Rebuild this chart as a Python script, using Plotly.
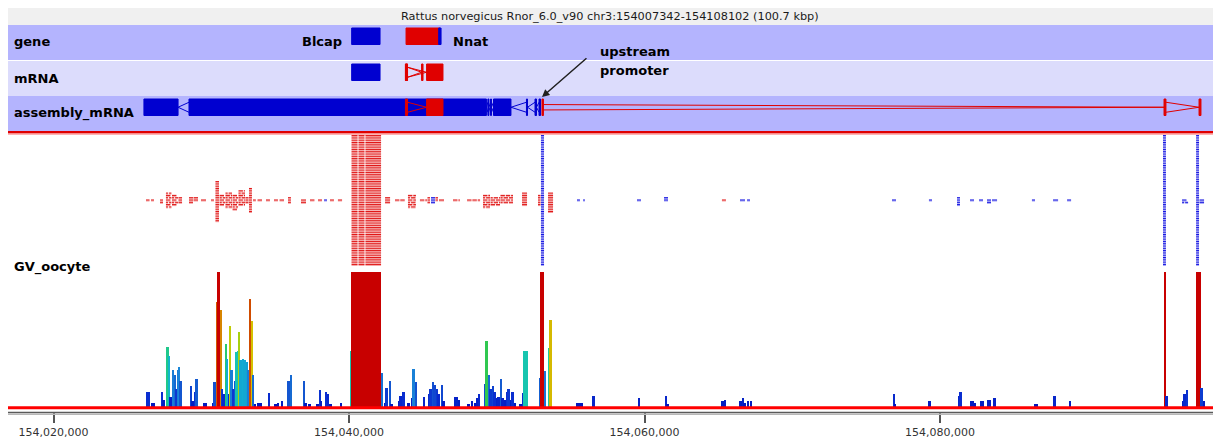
import plotly.graph_objects as go

# ------------------------------------------------------------------ data
VIEW_START = 154016379
VIEW_END = 154098475
VIEW_TITLE = "Rattus norvegicus Rnor_6.0_v90 chr3:154007342-154108102 (100.7 kbp)"
RULER_TICKS = [154020000, 154040000, 154060000, 154080000]

# gene track
gene_names = ["Blcap", "Nnat", ""]
gene_starts = [154040180, 154043860, 154046070]
gene_ends = [154042100, 154046160, 154046230]
gene_strands = ["-", "+", "-"]

# mRNA track (exon lists per transcript)
mrna_exons = [
    [(154040180, 154042100)],
    [(154043820, 154043960), (154045250, 154046360)],
    [(154043820, 154043960), (154044910, 154045010)],
]
mrna_strands = ["-", "+", "+"]

# assembly_mRNA track
assembly_exons = [
    [(154026120, 154028430), (154029170, 154049300), (154049400, 154049470),
     (154049580, 154049640), (154049780, 154050960), (154052010, 154052080),
     (154052590, 154052690), (154052860, 154052960)],
    [(154043820, 154043960), (154045250, 154046360)],
    [(154053060, 154053160), (154095160, 154095290), (154097530, 154097660)],
]
assembly_strands = ["-", "+", "+"]

# GV_oocyte reads: clusters of stacked reads (start, end, rows above, rows below, strand)
READ_LENGTH = 300
read_starts = [154026260, 154026600, 154027210, 154027610, 154028020, 154028460, 154029170,
               154029480, 154029980, 154030660, 154030960, 154031240, 154031640, 154032120,
               154032520, 154032990, 154033230, 154033500, 154033810, 154034380, 154034920,
               154035300, 154035870, 154036750, 154037360, 154037900, 154038310, 154038710,
               154039250, 154040170, 154040640, 154041110, 154042440, 154043110, 154043990,
               154044800, 154045310, 154045550, 154045850, 154046090, 154047040, 154047990,
               154049070, 154049580, 154050250, 154051710, 154052790, 154052990, 154053470,
               154055430, 154055840, 154059490, 154061320, 154065240, 154066460, 154066940,
               154076750, 154079250, 154081150, 154082030, 154082640, 154083180, 154083520,
               154086220, 154087650, 154088600, 154095090, 154096380, 154097330, 154097560]
read_ends = [154026500, 154026800, 154027410, 154027980, 154028430, 154028700, 154029440,
             154029780, 154030320, 154030860, 154031200, 154031610, 154032080, 154032490,
             154032960, 154033200, 154033430, 154033700, 154034110, 154034650, 154035190,
             154035600, 154036070, 154037090, 154037770, 154038170, 154038510, 154038980,
             154039530, 154040580, 154041050, 154042170, 154042780, 154043790, 154044530,
             154045280, 154045480, 154045820, 154046020, 154046430, 154047510, 154048870,
             154049540, 154050220, 154051100, 154052050, 154052960, 154053200, 154053810,
             154055630, 154055970, 154059760, 154061590, 154065510, 154066800, 154067140,
             154077020, 154079460, 154081350, 154082300, 154082910, 154083450, 154083860,
             154086430, 154087990, 154088870, 154095290, 154096790, 154097530, 154097870]
read_rows_up = [0, 0, 0, 3, 2, 1, 1, 1, 0, 0, 8, 2, 3, 2, 4, 1, 5, 0, 0, 0, 0, 0, 1, 0, 0,
                0, 0, 0, 0, 28, 28, 28, 1, 0, 2, 0, 1, 1, 1, 0, 0, 0, 2, 1, 2, 3, 2, 28, 3,
                0, 0, 0, 1, 0, 0, 0, 0, 0, 1, 0, 0, 0, 0, 0, 0, 0, 28, 0, 28, 0]
read_rows_down = [0, 0, 1, 3, 2, 1, 1, 0, 0, 0, 9, 2, 3, 4, 2, 1, 5, 0, 0, 0, 0, 0, 1, 1, 0,
                  0, 0, 0, 0, 28, 28, 28, 1, 0, 3, 0, 1, 1, 0, 0, 0, 0, 3, 2, 1, 2, 2, 28, 5,
                  0, 0, 0, 0, 0, 0, 0, 0, 0, 2, 0, 0, 1, 0, 0, 0, 0, 28, 1, 28, 1]
read_strands = ("+" * 26 + "-" + "+" * 10 + "-" + "+" * 9 + "-" + "+" + "----" + "+" + "-" * 16)

# GV_oocyte quantitated probes (start, value; 100 = display maximum)
PROBE_SIZE = 130
probe_starts = [
    154026260, 154026400, 154026600, 154026730, 154027280, 154027410, 154027680, 154027780,
    154027880, 154028020, 154028160, 154028260, 154028360, 154028460, 154028560, 154029240,
    154029370, 154029510, 154029640, 154030120, 154030250, 154030730, 154030860, 154031000,
    154031130, 154031270, 154031370, 154031470, 154031610, 154031710, 154031810, 154031910,
    154032010, 154032120, 154032220, 154032320, 154032420, 154032520, 154032620, 154032760,
    154032890, 154033030, 154033160, 154033270, 154033370, 154033470, 154033570, 154033840,
    154034010, 154034520, 154034990, 154035130, 154035400, 154035870, 154036010, 154036890,
    154037020, 154037290, 154037830, 154037970, 154038070, 154038380, 154038540, 154038710,
    154039390, 154040070,
    154040160, 154040300, 154040430, 154040570, 154040700, 154040840, 154040970, 154041110,
    154041250, 154041380, 154041520, 154041650, 154041790, 154041920, 154042060,
    154042200, 154042370, 154042500, 154042710, 154042840, 154043320, 154043450, 154043650,
    154043990, 154044200, 154044330, 154044470, 154045010, 154045350, 154045480, 154045620,
    154045750, 154045890, 154046020, 154046230, 154046360, 154047110, 154047240, 154047380,
    154048050, 154048260, 154048460, 154048600, 154048730, 154049140, 154049270, 154049410,
    154049540, 154049680, 154049810, 154049950, 154050080, 154050220, 154050350, 154050490,
    154050630, 154050760, 154050900, 154051030, 154051170, 154051570, 154051710, 154051840,
    154051950, 154052860, 154052990, 154053100, 154053230, 154053470, 154053600, 154055430,
    154055570, 154055700, 154056510, 154059560, 154061390, 154061520, 154065240, 154065380,
    154066460, 154066600, 154066730, 154066940, 154067140, 154076820, 154076920, 154079250,
    154081220, 154081350, 154082030, 154082160, 154082300, 154082710, 154082840, 154083180,
    154083310, 154083650, 154086360, 154086500, 154087710, 154088730, 154095160, 154095290,
    154096380, 154096510, 154096650, 154097390, 154097530, 154097660, 154097800,
]
probe_values = [
    12, 12, 4, 4, 12, 6, 45, 38,
    8, 28, 24, 14, 28, 30, 20, 16,
    5, 12, 21, 4, 4, 4, 19, 78,
    100, 72, 14, 10, 47, 36, 10, 60,
    28, 14, 20, 41, 42, 56, 35, 36,
    35, 34, 28, 80, 64, 24, 3, 4,
    4, 11, 3, 4, 5, 20, 24, 20,
    4, 3, 3, 13, 5, 12, 10, 3,
    4, 42,
    100, 100, 100, 100, 100, 100, 100, 100,
    100, 100, 100, 100, 100, 100, 100,
    26, 4, 15, 20, 3, 5, 9, 12,
    4, 7, 29, 19, 8, 10, 14, 19,
    17, 14, 10, 17, 5, 8, 8, 6,
    3, 5, 4, 7, 10, 18, 49, 24,
    14, 16, 12, 7, 8, 21, 7, 6,
    12, 14, 6, 12, 4, 3, 11, 42,
    42, 22, 100, 100, 27, 44, 65, 4,
    4, 4, 9, 7, 9, 3, 5, 6,
    5, 7, 4, 5, 5, 10, 3, 5,
    9, 12, 5, 5, 4, 5, 5, 6,
    6, 7, 3, 3, 9, 5, 100, 9,
    5, 10, 13, 100, 100, 15, 5,
]

# ------------------------------------------------------------------ style / layout
W, H = 1213, 441
PLOT_BOTTOM = 412                  # ruler line, px from top
LEFT_EDGE = 8
FONT = "DejaVu Sans"
TRACK_BG = [("gene", 25, "#b4b4fe"), ("mRNA", 61, "#dcdcfc"), ("assembly_mRNA", 96, "#b4b4fe")]
TRACK_H = 35
READ_CENTRE = 200
ROW_H = 2.3
READ_GAP = 60                      # bp left blank between neighbouring reads in a row
DEEP_STACK = 20                    # deep stacks are drawn as continuous rows
HIST_TOP, HIST_BOTTOM = 272, 408
STRAND_COLOUR = {"+": "#e00000", "-": "#0000d0"}
READ_COLOURS = {"+": ("#f4a0a0", "#e01818"), "-": ("#9c9cf6", "#1414e0")}
HEAT = [
    [0.00, "#0010b8"], [0.12, "#0a2ed0"], [0.22, "#1560d0"], [0.30, "#1a86d8"],
    [0.37, "#10b4d0"], [0.43, "#18c8a8"], [0.49, "#30c850"], [0.56, "#a8d010"],
    [0.63, "#d4c800"], [0.71, "#d88c00"], [0.80, "#d04c00"], [0.92, "#c81000"],
    [1.00, "#c80000"],
]


def py(p):
    """paper y for a pixel row (measured from the top of the figure)"""
    return 1 - p / PLOT_BOTTOM


def pxr(p):
    return p / W


fig = go.Figure()

# ---- feature tracks
def box(a, b, y0, y1):
    return [a, b, b, a, a, None], [y0, y0, y1, y1, y0, None]


def draw_transcripts(exon_sets, strands, top):
    y0, y1 = top + 3, top + 19.5
    mid = (y0 + y1) / 2
    for exons, strand in zip(exon_sets, strands):
        col = STRAND_COLOUR[strand]
        ix, iy = [], []
        for (a0, b0), (a1, b1) in zip(exons[:-1], exons[1:]):
            spread = 5 if a1 - b0 < 10000 else 2.7
            if strand == "+":
                ix += [b0, a1, None, b0, a1, None]
                iy += [mid - spread, mid, None, mid + spread, mid, None]
            else:
                ix += [b0, a1, None, b0, a1, None]
                iy += [mid, mid - spread, None, mid, mid + spread, None]
        if ix:
            fig.add_trace(go.Scatter(x=ix, y=iy, yaxis="y2", mode="lines",
                                     line=dict(color=col, width=1), hoverinfo="skip"))
        ex, ey = [], []
        for a, b in exons:
            bx, by = box(a, b, y0, y1)
            ex += bx
            ey += by
        fig.add_trace(go.Scatter(x=ex, y=ey, yaxis="y2", mode="lines", fill="toself",
                                 fillcolor=col, line=dict(color=col, width=1),
                                 hoverinfo="skip"))


draw_transcripts([[(s, e)] for s, e in zip(gene_starts, gene_ends)], gene_strands, TRACK_BG[0][1])
draw_transcripts(mrna_exons, mrna_strands, TRACK_BG[1][1])
draw_transcripts(assembly_exons, assembly_strands, TRACK_BG[2][1])


# ---- reads, packed in rows around the track centre
def row_reads(s, e, k, deep):
    """split one packed row of a cluster into individual reads"""
    if deep or e - s <= READ_LENGTH + READ_GAP:
        return [(s, e)]
    out = []
    pos = s - (k % 2) * (READ_LENGTH // 2)
    while pos < e:
        a, b = max(pos, s), min(pos + READ_LENGTH, e)
        if b - a > 60:
            out.append((a, b))
        pos += READ_LENGTH + READ_GAP
    return out


for strand in "+-":
    lx, ly, dx, dy = [], [], [], []
    for s, e, u, d, st in zip(read_starts, read_ends, read_rows_up, read_rows_down, read_strands):
        if st != strand:
            continue
        deep = u + d >= DEEP_STACK
        for k in range(-d, u + 1):
            y = READ_CENTRE - k * ROW_H
            for a, b in row_reads(s, e, k, deep):
                lx += [a, b, None]
                ly += [y + 1.0, y + 1.0, None]
                dx += [a, b, None]
                dy += [y, y, None]
    light, dark = READ_COLOURS[strand]
    fig.add_trace(go.Scatter(x=lx, y=ly, yaxis="y2", mode="lines",
                             line=dict(color=light, width=1.0), hoverinfo="skip"))
    fig.add_trace(go.Scatter(x=dx, y=dy, yaxis="y2", mode="lines",
                             line=dict(color=dark, width=1.1), hoverinfo="skip"))

# ---- quantitation histogram
fig.add_trace(go.Bar(
    x=probe_starts, y=probe_values, width=PROBE_SIZE, offset=0, yaxis="y",
    marker=dict(color=probe_values, colorscale=HEAT, cmin=0, cmax=100, line=dict(width=0)),
    hoverinfo="skip",
))

# ---- panels, separators and ruler lines
shapes = [dict(type="rect", xref="paper", yref="paper", x0=pxr(LEFT_EDGE), x1=1,
               y0=py(25), y1=py(8), fillcolor="#f0f0f0", line_width=0, layer="below")]
for _, top, colour in TRACK_BG:
    shapes.append(dict(type="rect", xref="paper", yref="paper", x0=pxr(LEFT_EDGE), x1=1,
                       y0=py(top + TRACK_H), y1=py(top), fillcolor=colour, line_width=0,
                       layer="below"))
for y, colour, w in [(132.2, "#e00000", 2.5), (134.2, "#ff9a9a", 1.3),
                     (407.8, "#ff0000", 3), (412.6, "#5a5a5a", 1.5), (414.3, "#b8b8b8", 1.4)]:
    shapes.append(dict(type="line", xref="paper", yref="paper", x0=pxr(LEFT_EDGE), x1=1,
                       y0=py(y), y1=py(y), line=dict(color=colour, width=w), layer="above"))

# ---- text
def label(text, x, y, size=13, bold=True, anchor="left", colour="#000"):
    return dict(text=f"<b>{text}</b>" if bold else text, xref="paper", yref="paper",
                x=pxr(x), y=py(y), xanchor=anchor, yanchor="middle", showarrow=False,
                font=dict(family=FONT, size=size, color=colour))


annotations = [label(VIEW_TITLE, 610, 16.8, size=11.3, bold=False, anchor="center",
                     colour="#1a1a1a")]
for (name, top, _), y in zip(TRACK_BG, [42, 78, 113]):
    annotations.append(label(name, 12, y))
annotations.append(label("GV_oocyte", 12, 267))
annotations.append(label(gene_names[0], 344, 42, anchor="right"))
annotations.append(label(gene_names[1], 451, 42))
annotations.append(label("upstream", 598, 51.5))
annotations.append(label("promoter", 598, 70.5))
annotations.append(dict(text="", x=assembly_exons[2][0][0], y=97, xref="x", yref="y2",
                        showarrow=True, ax=46, ay=-40, arrowhead=2, arrowsize=1,
                        arrowwidth=1.5, arrowcolor="#202020"))

fig.update_layout(
    width=W, height=H,
    margin=dict(l=0, r=0, t=0, b=H - PLOT_BOTTOM, pad=0),
    paper_bgcolor="white", plot_bgcolor="rgba(0,0,0,0)",
    showlegend=False, bargap=0,
    xaxis=dict(range=[VIEW_START, VIEW_END], tickvals=RULER_TICKS, tickformat=",d",
               ticks="outside", ticklen=10, tickwidth=1.5, tickcolor="#555",
               showgrid=False, zeroline=False, showline=False, anchor="free", position=0,
               tickfont=dict(family=FONT, size=11, color="#333"), fixedrange=True),
    yaxis=dict(domain=[py(HIST_BOTTOM), py(HIST_TOP)], range=[0, 100], visible=False,
               fixedrange=True),
    yaxis2=dict(domain=[0, 1], range=[PLOT_BOTTOM, 0], visible=False, anchor="x",
                fixedrange=True),
    shapes=shapes, annotations=annotations,
)

fig.write_html("out.html")
